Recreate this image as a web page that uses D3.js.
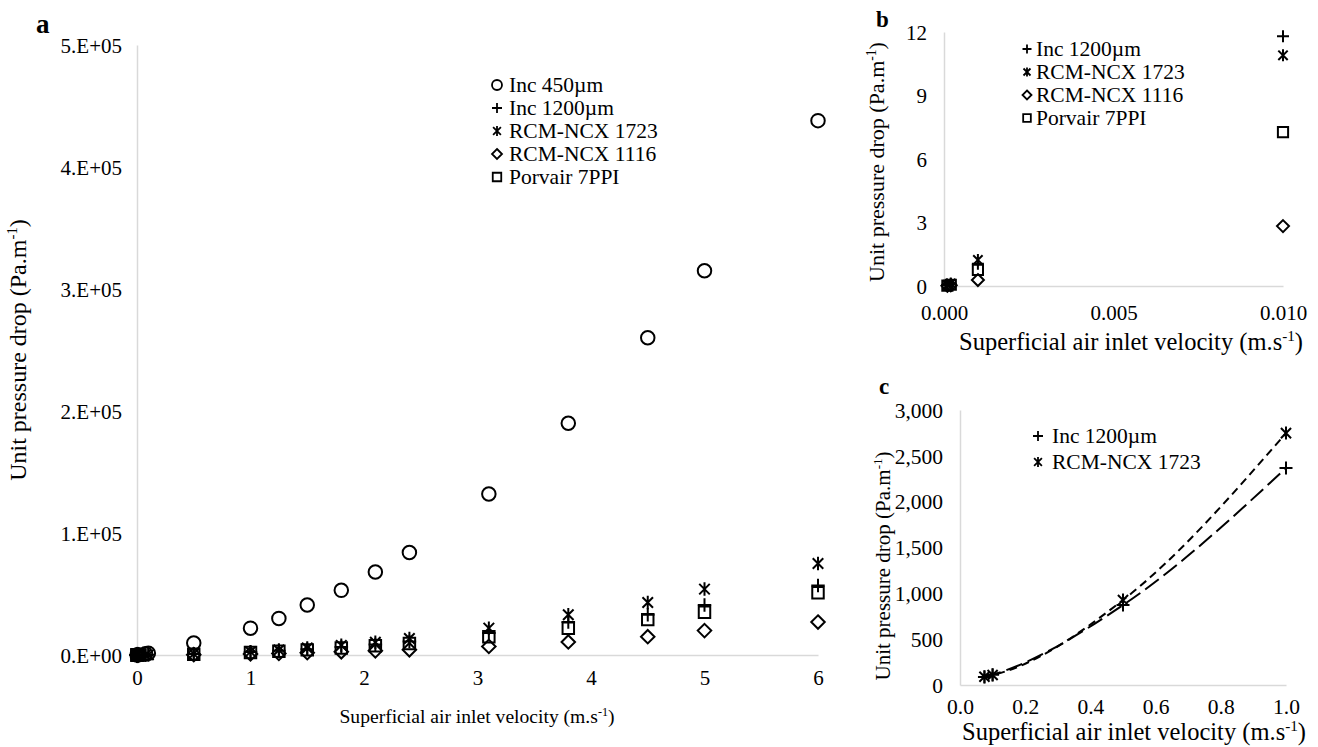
<!DOCTYPE html>
<html><head><meta charset="utf-8">
<script src="https://cdn.jsdelivr.net/npm/d3@7"></script>
<style>
body{margin:0;background:#fff}
svg{font-family:"Liberation Serif","Times New Roman",serif}
text{font-family:"Liberation Serif","Times New Roman",serif;fill:#000}
</style>
</head><body>
<svg id="chart" width="1318" height="747"></svg>
<script>
// ---------------- DATA ----------------
const seriesNames   = ["Inc 450µm", "Inc 1200µm", "RCM-NCX 1723", "RCM-NCX 1116", "Porvair 7PPI"];
const seriesSymbols = ["circle", "plus", "star", "diamond", "square"];

const inc450X  = [0.001, 0.01, 0.075, 0.1, 0.5, 1, 1.25, 1.5, 1.8, 2.1, 2.4, 3.1, 3.8, 4.5, 5, 6];
const inc450Y  = [12, 130, 1100, 1500, 9800, 22000, 30000, 41000, 53000, 68000, 84000, 132000, 190000, 260000, 315000, 438000];

const inc1200X = [0.0001, 0.0002, 0.001, 0.01, 0.075, 0.1, 0.5, 1, 1.25, 1.5, 1.8, 2.1, 2.4, 3.1, 3.8, 4.5, 5, 6];
const inc1200Y = [0.05, 0.1, 1.05, 11.8, 87, 112, 872, 2366, 3500, 4800, 6600, 8600, 11000, 18000, 27000, 33000, 41000, 57000];

const rcm1723X = [0.0001, 0.0002, 0.001, 0.01, 0.075, 0.1, 0.5, 1, 1.25, 1.5, 1.8, 2.1, 2.4, 3.1, 3.8, 4.5, 5, 6];
const rcm1723Y = [0.05, 0.12, 1.23, 10.9, 90, 109, 927, 2748, 4100, 5700, 7900, 10500, 13500, 22000, 33000, 43000, 54000, 75000];

const rcm1116X = [0.0001, 0.0002, 0.001, 0.01, 0.5, 1, 1.25, 1.5, 1.8, 2.1, 2.4, 3.1, 3.8, 4.5, 5, 6];
const rcm1116Y = [0.01, 0.03, 0.28, 2.83, 300, 900, 1300, 1900, 2600, 3400, 4300, 7000, 10700, 15000, 20000, 27000];

const porvairX = [0.0001, 0.0002, 0.001, 0.01, 0.5, 1, 1.25, 1.5, 1.8, 2.1, 2.4, 3.1, 3.8, 4.5, 5, 6];
const porvairY = [0.02, 0.06, 0.76, 7.27, 700, 2000, 3000, 4200, 5800, 7600, 9500, 15000, 22000, 29000, 35000, 51000];

const aXTicks = [0, 1, 2, 3, 4, 5, 6];
const aYTicks = [0, 100000, 200000, 300000, 400000, 500000];
const aYTickLabels = ["0.E+00", "1.E+05", "2.E+05", "3.E+05", "4.E+05", "5.E+05"];

const bXTicks = [0, 0.005, 0.01];
const bXTickLabels = ["0.000", "0.005", "0.010"];
const bYTicks = [0, 3, 6, 9, 12];

const cXTicks = [0, 0.2, 0.4, 0.6, 0.8, 1.0];
const cXTickLabels = ["0.0", "0.2", "0.4", "0.6", "0.8", "1.0"];
const cYTicks = [0, 500, 1000, 1500, 2000, 2500, 3000];
const cYTickLabels = ["0", "500", "1,000", "1,500", "2,000", "2,500", "3,000"];

const xTitle = ["Superficial air inlet velocity (m.s", "-1", ")"];
const yTitle = ["Unit pressure drop (Pa.m", "-1", ")"];

// -------------- BUILD -----------------
const FONT = '"Liberation Serif","Times New Roman",serif';
const seriesX = [inc450X, inc1200X, rcm1723X, rcm1116X, porvairX];
const seriesY = [inc450Y, inc1200Y, rcm1723Y, rcm1116Y, porvairY];
const series = seriesNames.map((n, i) => ({
  name: n, sym: seriesSymbols[i],
  pts: seriesX[i].map((x, j) => ({x: x, y: seriesY[i][j]}))
}));

const svg = d3.select("#chart");
const GRID = "#d9d9d9";

function symPath(type, cx, cy, s) {
  const h = s / 2;
  switch (type) {
    case "circle":
      return `M${cx - h},${cy}A${h},${h} 0 1,0 ${cx + h},${cy}A${h},${h} 0 1,0 ${cx - h},${cy}Z`;
    case "plus":
      return `M${cx - h},${cy}H${cx + h}M${cx},${cy - h}V${cy + h}`;
    case "star": {
      const d = h * 0.78;
      return `M${cx - d},${cy - d}L${cx + d},${cy + d}M${cx - d},${cy + d}L${cx + d},${cy - d}M${cx},${cy - h}V${cy + h}`;
    }
    case "diamond":
      return `M${cx},${cy - h}L${cx + h},${cy}L${cx},${cy + h}L${cx - h},${cy}Z`;
    case "square": {
      const q = h * 0.85;
      return `M${cx - q},${cy - q}H${cx + q}V${cy + q}H${cx - q}Z`;
    }
  }
}

function supText(sel, parts, fs) {
  sel.append("tspan").text(parts[0]);
  sel.append("tspan").attr("font-size", fs * 0.62).attr("dy", -fs * 0.38).text(parts[1]);
  sel.append("tspan").attr("dy", fs * 0.38).text(parts[2]);
}

function styleAxis(g, fs) {
  g.attr("font-family", FONT);
  g.select(".domain").attr("stroke", GRID).attr("stroke-width", 1.5);
  g.selectAll(".tick line").remove();
  g.selectAll(".tick text").attr("font-size", fs).attr("font-family", FONT).attr("fill", "#000");
}

function drawPanel(cfg) {
  const g = svg.append("g").attr("font-family", FONT);
  const x = d3.scaleLinear().domain(cfg.xDom).range(cfg.xRange);
  const y = d3.scaleLinear().domain(cfg.yDom).range(cfg.yRange);

  const ya = g.append("g").attr("transform", `translate(${cfg.xRange[0]},0)`)
    .call(d3.axisLeft(y).tickValues(cfg.yTicks).tickFormat((d, i) => cfg.yLabels ? cfg.yLabels[i] : d)
      .tickSize(0).tickSizeOuter(0).tickPadding(cfg.yPad));
  styleAxis(ya, cfg.tickFs);
  ya.selectAll(".tick text").attr("dy", "0.34em");

  const xa = g.append("g").attr("transform", `translate(0,${cfg.yRange[0]})`)
    .call(d3.axisBottom(x).tickValues(cfg.xTicks).tickFormat((d, i) => cfg.xLabels ? cfg.xLabels[i] : d)
      .tickSize(0).tickSizeOuter(0).tickPadding(cfg.xPad));
  styleAxis(xa, cfg.tickFs);

  // trend lines
  if (cfg.lines) {
    cfg.lines.forEach(L => {
      const s = series[L.idx];
      const pts = s.pts.filter(cfg.filter);
      g.append("path").datum(pts)
        .attr("fill", "none").attr("stroke", "#000").attr("stroke-width", 2)
        .attr("stroke-dasharray", L.dash)
        .attr("d", d3.line().x(d => x(d.x)).y(d => y(d.y)).curve(d3.curveMonotoneX));
    });
  }

  cfg.seriesIdx.forEach(i => {
    const s = series[i];
    const pts = s.pts.filter(cfg.filter);
    g.append("g").selectAll("path").data(pts).join("path")
      .attr("d", d => symPath(s.sym, x(d.x), y(d.y), cfg.markSize))
      .attr("fill", "none").attr("stroke", "#000").attr("stroke-width", cfg.markStroke);
  });

  // legend
  const lg = g.append("g");
  cfg.seriesIdx.forEach((i, k) => {
    const cy = cfg.legY + k * cfg.legStep;
    lg.append("path").attr("d", symPath(series[i].sym, cfg.legMarkX, cy, cfg.legMark))
      .attr("fill", "none").attr("stroke", "#000").attr("stroke-width", 1.8);
    lg.append("text").attr("x", cfg.legTextX).attr("y", cy + cfg.legFs * 0.33)
      .attr("font-size", cfg.legFs).text(series[i].name);
  });

  // titles
  const xt = g.append("text").attr("x", cfg.xTitlePos[0]).attr("y", cfg.xTitlePos[1])
    .attr("text-anchor", "middle").attr("font-size", cfg.xTitleFs);
  supText(xt, xTitle, cfg.xTitleFs);
  const yt = g.append("text").attr("transform", `translate(${cfg.yTitlePos[0]},${cfg.yTitlePos[1]}) rotate(-90)`)
    .attr("text-anchor", "middle").attr("font-size", cfg.yTitleFs);
  supText(yt, yTitle, cfg.yTitleFs);

  g.append("text").attr("x", cfg.letterPos[0]).attr("y", cfg.letterPos[1])
    .attr("font-size", cfg.letterFs).attr("font-weight", "bold").text(cfg.letter);
}

// Panel a
drawPanel({
  xDom: [0, 6], xRange: [137, 818], yDom: [0, 500000], yRange: [655, 45],
  xTicks: aXTicks, yTicks: aYTicks, yLabels: aYTickLabels,
  yPad: 15, xPad: 15, tickFs: 21,
  seriesIdx: [0, 1, 2, 3, 4], filter: d => true, markSize: 13.5, markStroke: 2,
  legY: 85, legStep: 23, legMarkX: 497, legTextX: 509, legMark: 10, legFs: 21.5,
  xTitlePos: [477, 723], xTitleFs: 19.6, yTitlePos: [26, 350], yTitleFs: 24,
  letter: "a", letterPos: [36, 33], letterFs: 27
});

// Panel b
drawPanel({
  xDom: [0, 0.01], xRange: [944, 1283], yDom: [0, 12], yRange: [286, 32],
  xTicks: bXTicks, xLabels: bXTickLabels, yTicks: bYTicks,
  yPad: 17, xPad: 19, tickFs: 21,
  seriesIdx: [1, 2, 3, 4], filter: d => d.x <= 0.0101, markSize: 12, markStroke: 2,
  legY: 49, legStep: 23, legMarkX: 1027, legTextX: 1036, legMark: 9, legFs: 21.5,
  xTitlePos: [1131, 350], xTitleFs: 24.5, yTitlePos: [884, 162], yTitleFs: 22,
  letter: "b", letterPos: [876, 27], letterFs: 23
});

// Panel c
drawPanel({
  xDom: [0, 1], xRange: [960, 1286], yDom: [0, 3000], yRange: [685, 410],
  xTicks: cXTicks, xLabels: cXTickLabels, yTicks: cYTicks, yLabels: cYTickLabels,
  yPad: 17, xPad: 14, tickFs: 21.5,
  seriesIdx: [1, 2], filter: d => d.x >= 0.05 && d.x <= 1.0001, markSize: 13, markStroke: 2,
  lines: [{idx: 2, dash: "8,5"}, {idx: 1, dash: "17,6"}],
  legY: 436, legStep: 26, legMarkX: 1038, legTextX: 1052, legMark: 10, legFs: 21.5,
  xTitlePos: [1134, 740], xTitleFs: 24.5, yTitlePos: [890, 566], yTitleFs: 21,
  letter: "c", letterPos: [879, 394], letterFs: 23
});
</script>
</body></html>
